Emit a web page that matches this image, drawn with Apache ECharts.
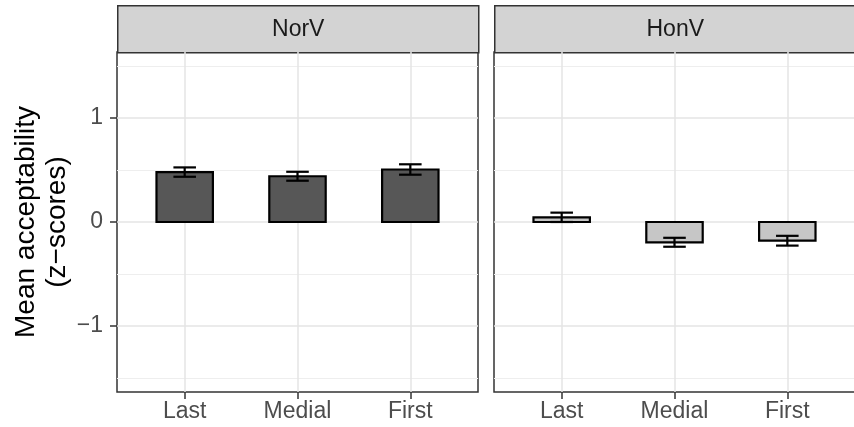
<!DOCTYPE html>
<html><head><meta charset="utf-8">
<script src="https://cdn.jsdelivr.net/npm/echarts@6/dist/echarts.min.js"></script>
<style>html,body{margin:0;padding:0;background:#fff}#c{width:854px;height:427px}</style>
</head><body><div id="c"></div>
<script>
const categories = ['Last', 'Medial', 'First'];
const panels = ['NorV', 'HonV'];
const norvMeans = [0.48, 0.44, 0.505];
const norvErrors = [0.045, 0.043, 0.05];
const honvMeans = [0.045, -0.195, -0.18];
const honvErrors = [0.045, 0.043, 0.047];
const yTicks = [-1, 0, 1];
const yMinorTicks = [-1.5, -0.5, 0.5, 1.5];
const xPositions = [1, 2, 3];

const FONT = '"Liberation Sans", Arial, Helvetica, sans-serif';
const fills = ['#575757', '#c6c6c6'];
const Y_MIN = -1.635, Y_MAX = 1.635;

const grids = [
  { left: 117, top: 52, width: 361, height: 340 },
  { left: 494, top: 52, width: 361, height: 340 }
];

function barItem(params, api) {
  const x = api.value(0), m = api.value(1);
  const p0 = api.coord([x - 0.25, 0]);
  const p1 = api.coord([x + 0.25, m]);
  return {
    type: 'rect',
    shape: { x: Math.min(p0[0], p1[0]), y: Math.min(p0[1], p1[1]),
             width: Math.abs(p1[0] - p0[0]), height: Math.abs(p1[1] - p0[1]) },
    style: { fill: api.visual('color'), stroke: '#000', lineWidth: 2.2 }
  };
}
function errItem(params, api) {
  const x = api.value(0), lo = api.value(2), hi = api.value(3);
  const a = api.coord([x, lo]), b = api.coord([x, hi]);
  const l = api.coord([x - 0.1, lo])[0], r = api.coord([x + 0.1, lo])[0];
  const st = { stroke: '#000', lineWidth: 2.2 };
  return { type: 'group', children: [
    { type: 'line', shape: { x1: a[0], y1: a[1], x2: b[0], y2: b[1] }, style: st },
    { type: 'line', shape: { x1: l, y1: a[1], x2: r, y2: a[1] }, style: st },
    { type: 'line', shape: { x1: l, y1: b[1], x2: r, y2: b[1] }, style: st }
  ]};
}

const meansList = [norvMeans, honvMeans];
const errList = [norvErrors, honvErrors];

const xAxis = [], yAxis = [], series = [], graphic = [];
grids.forEach((g, i) => {
  xAxis.push({
    type: 'value', gridIndex: i, min: 0.4, max: 3.6, position: 'bottom',
    axisLine: { show: false, onZero: false },
    axisTick: { show: true, customValues: xPositions, length: 7, lineStyle: { color: '#333', width: 1.5 } },
    axisLabel: { customValues: xPositions, formatter: v => categories[Math.round(v) - 1],
                 color: '#4d4d4d', fontSize: 23, fontFamily: FONT, margin: 8 },
    splitLine: { show: true, lineStyle: { color: '#e4e4e4', width: 1.5 } }
  });
  yAxis.push({
    type: 'value', gridIndex: i, min: Y_MIN, max: Y_MAX, position: 'left',
    axisLine: { show: false, onZero: false },
    axisTick: { show: i === 0, customValues: yTicks, length: 7, lineStyle: { color: '#333', width: 1.5 } },
    axisLabel: { show: i === 0, customValues: yTicks, color: '#4d4d4d', fontSize: 23, fontFamily: FONT, margin: 14,
                 formatter: v => (v < 0 ? '\u2212' + Math.abs(v) : String(v)) },
    splitLine: { show: true, lineStyle: { color: '#e4e4e4', width: 1.5 } },
    name: i === 0 ? 'Mean acceptability\n(z\u2212scores)' : '',
    nameLocation: 'middle', nameRotate: 90, nameGap: 40,
    nameTextStyle: { fontSize: 28, lineHeight: 31, color: '#000', fontFamily: FONT }
  });
  yAxis.push({
    type: 'value', gridIndex: i, min: Y_MIN, max: Y_MAX, position: 'right',
    axisLine: { show: false, onZero: false },
    axisTick: { show: false, customValues: yMinorTicks },
    axisLabel: { show: false, customValues: yMinorTicks },
    splitLine: { show: true, lineStyle: { color: '#eeeeee', width: 1 } }
  });
  const means = meansList[i], errs = errList[i];
  series.push({
    type: 'custom', xAxisIndex: i, yAxisIndex: i * 2,
    itemStyle: { color: fills[i] },
    renderItem: barItem,
    encode: { x: 0, y: 1 },
    data: means.map((m, k) => [xPositions[k], m]),
    z: 2
  });
  series.push({
    type: 'custom', xAxisIndex: i, yAxisIndex: i * 2,
    renderItem: errItem,
    encode: { x: 0, y: [2, 3] },
    data: means.map((m, k) => [xPositions[k], m, m - errs[k], m + errs[k]]),
    z: 3
  });
  graphic.push({
    type: 'group', left: g.left, top: 5,
    children: [
      { type: 'rect', shape: { x: 0, y: 0, width: g.width, height: 47 },
        style: { fill: '#d3d3d3', stroke: '#333', lineWidth: 1.5 } },
      { type: 'text', x: g.width / 2, y: 24,
        style: { text: panels[i], fill: '#1a1a1a', fontSize: 23, fontFamily: FONT,
                 align: 'center', verticalAlign: 'middle' } }
    ]
  });
});

const chart = echarts.init(document.getElementById('c'), null, { renderer: 'canvas' });
chart.setOption({
  animation: false,
  backgroundColor: '#fff',
  grid: grids.map(g => Object.assign({ show: true, borderColor: '#333', borderWidth: 1.5, backgroundColor: '#fff',
                                       containLabel: false, outerBoundsMode: 'none' }, g)),
  xAxis, yAxis, series, graphic
});
</script></body></html>
